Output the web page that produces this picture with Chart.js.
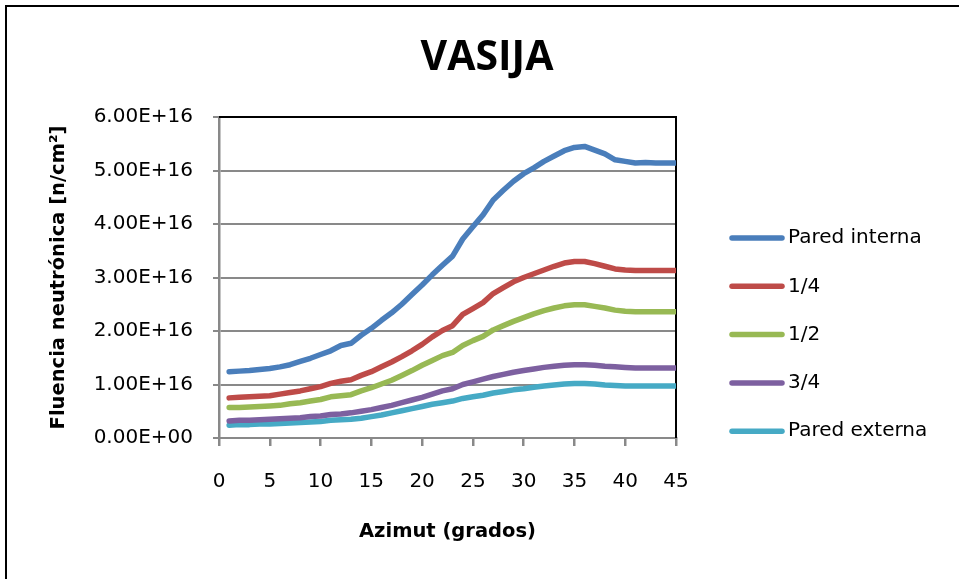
<!DOCTYPE html>
<html>
<head>
<meta charset="utf-8">
<script src="https://cdn.jsdelivr.net/npm/chart.js@4/dist/chart.umd.min.js"></script>
<style>
    html, body { margin: 0; padding: 0; background: #fff; overflow: hidden; }
    canvas { display: block; }
</style>
</head>
<body>
<canvas id="vasija" width="959" height="579"></canvas>
<script>
// Azimut (grados)
const azimut = [1, 2, 3, 4, 5, 6, 7, 8, 9, 10, 11, 12, 13, 14, 15, 16, 17, 18, 19, 20, 21, 22, 23,
    24, 25, 26, 27, 28, 29, 30, 31, 32, 33, 34, 35, 36, 37, 38, 39, 40, 41, 42, 43, 44, 45];

// Fluencia en unidades de 1E+16 n/cm2
const paredInterna = [1.24, 1.25, 1.26, 1.28, 1.30, 1.33, 1.37, 1.43, 1.49, 1.56, 1.63, 1.73, 1.77,
    1.92, 2.05, 2.20, 2.34, 2.50, 2.68, 2.86, 3.05, 3.23, 3.40, 3.72, 3.95, 4.17, 4.45, 4.63, 4.80,
    4.94, 5.05, 5.17, 5.27, 5.37, 5.43, 5.45, 5.38, 5.31, 5.20, 5.17, 5.14, 5.15, 5.14, 5.14, 5.14];
const unCuarto = [0.75, 0.76, 0.77, 0.78, 0.79, 0.82, 0.85, 0.88, 0.92, 0.96, 1.02, 1.06, 1.09,
    1.17, 1.24, 1.33, 1.42, 1.52, 1.63, 1.75, 1.89, 2.01, 2.10, 2.31, 2.42, 2.53, 2.70, 2.81, 2.92,
    3.00, 3.07, 3.14, 3.21, 3.27, 3.30, 3.30, 3.26, 3.21, 3.16, 3.14, 3.13, 3.13, 3.13, 3.13, 3.13];
const unMedio = [0.57, 0.57, 0.58, 0.59, 0.60, 0.61, 0.64, 0.66, 0.69, 0.72, 0.77, 0.79, 0.81,
    0.88, 0.94, 1.01, 1.08, 1.17, 1.26, 1.36, 1.45, 1.54, 1.60, 1.73, 1.82, 1.90, 2.02, 2.10, 2.18,
    2.25, 2.32, 2.38, 2.43, 2.47, 2.49, 2.49, 2.46, 2.43, 2.39, 2.37, 2.36, 2.36, 2.36, 2.36, 2.36];
const tresCuartos = [0.32, 0.33, 0.33, 0.34, 0.35, 0.36, 0.37, 0.38, 0.40, 0.41, 0.44, 0.45, 0.47,
    0.50, 0.53, 0.57, 0.61, 0.66, 0.71, 0.76, 0.82, 0.88, 0.92, 1.00, 1.05, 1.10, 1.15, 1.19, 1.23,
    1.26, 1.29, 1.32, 1.34, 1.36, 1.37, 1.37, 1.36, 1.34, 1.33, 1.32, 1.31, 1.31, 1.31, 1.31, 1.31];
const paredExterna = [0.24, 0.25, 0.25, 0.26, 0.26, 0.27, 0.28, 0.29, 0.30, 0.31, 0.33, 0.34, 0.35,
    0.37, 0.40, 0.43, 0.47, 0.51, 0.55, 0.59, 0.63, 0.66, 0.69, 0.74, 0.77, 0.80, 0.84, 0.87, 0.90,
    0.92, 0.95, 0.97, 0.99, 1.01, 1.02, 1.02, 1.01, 0.99, 0.98, 0.97, 0.97, 0.97, 0.97, 0.97, 0.97];

const seriesNames = ['Pared interna', '1/4', '1/2', '3/4', 'Pared externa'];
const seriesColors = ['#4A7EBB', '#BE4B48', '#98B954', '#7D60A0', '#46AAC5'];
const unit = 1e16;

function toPoints(values) {
    return values.map((v, i) => ({ x: azimut[i], y: v * unit }));
}

function sciLabel(value) {
    if (value === 0) return '0.00E+00';
    return (value / unit).toFixed(2) + 'E+16';
}

// outer frame of the chart object: only left and top edges are inside the picture
const outerFrame = {
    id: 'outerFrame',
    afterDraw(chart) {
        const ctx = chart.ctx;
        ctx.save();
        ctx.strokeStyle = '#000';
        ctx.lineWidth = 2;
        ctx.beginPath();
        ctx.moveTo(6, chart.height);
        ctx.lineTo(6, 6);
        ctx.lineTo(chart.width, 6);
        ctx.stroke();
        ctx.restore();
    },
};

// black border on top and right of the plot area (as in Excel)
const plotBorder = {
    id: 'plotBorder',
    beforeDatasetsDraw(chart) {
        const { ctx, chartArea: a } = chart;
        ctx.save();
        ctx.strokeStyle = '#000';
        ctx.lineWidth = 2;
        ctx.beginPath();
        ctx.moveTo(a.left, a.top);
        ctx.lineTo(a.right, a.top);
        ctx.lineTo(a.right, a.bottom);
        ctx.stroke();
        ctx.restore();
    },
};

// legend on the right, one row per series
const sideLegend = {
    id: 'sideLegend',
    afterDraw(chart) {
        const { ctx, chartArea: a } = chart;
        ctx.save();
        ctx.font = '20px "DejaVu Sans"';
        ctx.textBaseline = 'middle';
        ctx.textAlign = 'left';
        chart.data.datasets.forEach((ds, i) => {
            const y = 238 + i * 48.3;
            const x0 = a.right + 56;
            ctx.strokeStyle = ds.borderColor;
            ctx.lineWidth = 5.5;
            ctx.lineCap = 'round';
            ctx.beginPath();
            ctx.moveTo(x0, y);
            ctx.lineTo(x0 + 50, y);
            ctx.stroke();
            ctx.fillStyle = '#000';
            ctx.fillText(ds.label, x0 + 56, y);
        });
        ctx.restore();
    },
};

const allSeries = [paredInterna, unCuarto, unMedio, tresCuartos, paredExterna];

const ctx = document.getElementById('vasija').getContext('2d');
new Chart(ctx, {
    type: 'line',
    data: {
        datasets: allSeries.map((values, i) => ({
            label: seriesNames[i],
            data: toPoints(values),
            borderColor: seriesColors[i],
            backgroundColor: seriesColors[i],
            borderWidth: 5.5,
            borderCapStyle: 'round',
            borderJoinStyle: 'round',
            pointRadius: 0,
            tension: 0,
        })),
    },
    options: {
        responsive: false,
        animation: false,
        events: [],
        layout: {
            padding: { left: 15, right: 0, top: 0, bottom: 0 },
        },
        plugins: {
            legend: { display: false },
            tooltip: { enabled: false },
            title: {
                display: true,
                text: 'VASIJA',
                color: '#000',
                font: { family: '"Open Sans"', size: 41, weight: 'bold', lineHeight: 1.2 },
                padding: { top: 34, bottom: 33.8 },
            },
        },
        scales: {
            x: {
                type: 'linear',
                min: 0,
                max: 45,
                afterFit: (s) => { s.height = 579 - 438; },
                ticks: {
                    stepSize: 5,
                    color: '#000',
                    padding: 24,
                    font: { family: '"DejaVu Sans"', size: 20 },
                },
                grid: {
                    drawOnChartArea: false,
                    drawTicks: true,
                    tickLength: 8,
                    color: '#898989',
                    lineWidth: 2.5,
                },
                border: { color: '#898989', width: 2 },
                title: {
                    display: true,
                    text: 'Azimut (grados)',
                    color: '#000',
                    font: { family: '"DejaVu Sans"', size: 19.5, weight: 'bold' },
                    padding: { top: 0, bottom: 35 },
                },
            },
            y: {
                min: 0,
                max: 6 * unit,
                afterFit: (s) => { s.width = 219 - 15; },
                ticks: {
                    stepSize: unit,
                    color: '#000',
                    padding: 20,
                    font: { family: '"DejaVu Sans"', size: 20 },
                    callback: (value) => sciLabel(value),
                },
                grid: {
                    color: '#898989',
                    lineWidth: 2,
                    tickLength: 6,
                },
                border: { color: '#898989', width: 2.5 },
                title: {
                    display: true,
                    text: 'Fluencia neutrónica [n/cm²]',
                    color: '#000',
                    font: { family: '"DejaVu Sans"', size: 19.5, weight: 'bold' },
                    padding: { top: 32, bottom: 0 },
                },
            },
            // empty axis that keeps room for the legend on the right
            room: {
                type: 'linear',
                position: 'right',
                afterFit: (s) => { s.width = 959 - 676; },
                ticks: { display: false },
                grid: { display: false },
                border: { display: false },
            },
        },
    },
    plugins: [outerFrame, plotBorder, sideLegend],
});
</script>
</body>
</html>
